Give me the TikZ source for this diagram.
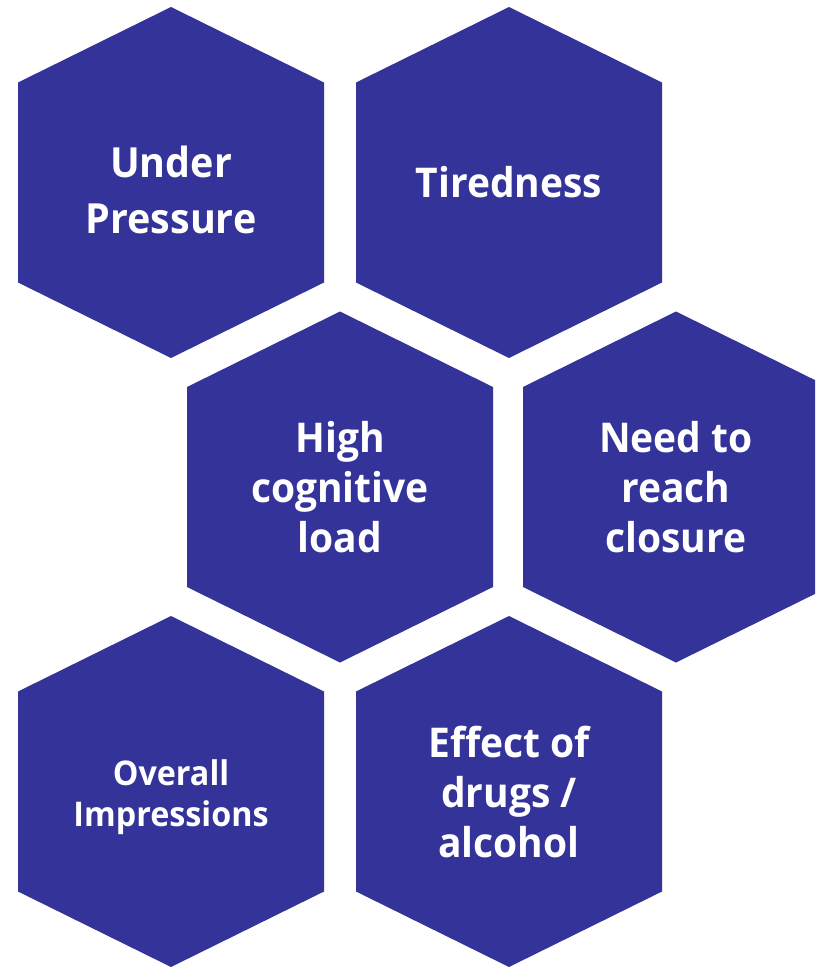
\documentclass[tikz,border=0pt]{standalone}
\usepackage{fontspec}
\setmainfont{Open Sans}[FakeStretch=0.95]
\definecolor{hexblue}{RGB}{51,51,153}
\newcommand{\ls}{\rule[-0.3em]{0pt}{1.1em}}
\newcommand{\hexshape}[1]{%
  \fill[hexblue] (#1) ++(0,-175.5) -- ++(153,75.5) -- ++(0,200) -- ++(-153,75.5)
    -- ++(-153,-75.5) -- ++(0,-200) -- cycle;}
\tikzset{
  hextext/.style={text=white, align=center, inner sep=0pt, font=\bfseries\fontsize{41}{50}\selectfont},
  smalltext/.style={hextext, font=\bfseries\fontsize{34}{41}\selectfont}
}
\begin{document}
\begin{tikzpicture}[x=1pt,y=-1pt]
\useasboundingbox (0,0) rectangle (815,969);
\clip (0,0) rectangle (815,969);
\coordinate (c1) at (171,182.5);
\coordinate (c2) at (509,182.5);
\coordinate (c3) at (340,487);
\coordinate (c4) at (676,487);
\coordinate (c5) at (171,791.5);
\coordinate (c6) at (509,791.5);
\hexshape{c1}
\hexshape{c2}
\hexshape{c3}
\hexshape{c4}
\hexshape{c5}
\hexshape{c6}
\node[hextext, font=\bfseries\fontsize{41.5}{56}\selectfont] (t1) at (171,195.5) {\ls Under\\\ls Pressure};
\node[hextext] (t2) at (509,187) {\ls Tiredness};
\node[hextext] (t3) at (340,492.4) {\ls High\\\ls cognitive\\\ls load};
\node[hextext] (t4) at (676,492) {\ls Need to\\\ls reach\\\ls closure};
\node[smalltext] (t5) at (171,797.5) {\ls Overall\\\ls Impressions};
\node[hextext] (t6) at (509,797.4) {\ls Effect of\\\ls drugs /\\\ls alcohol};
\end{tikzpicture}
\end{document}
